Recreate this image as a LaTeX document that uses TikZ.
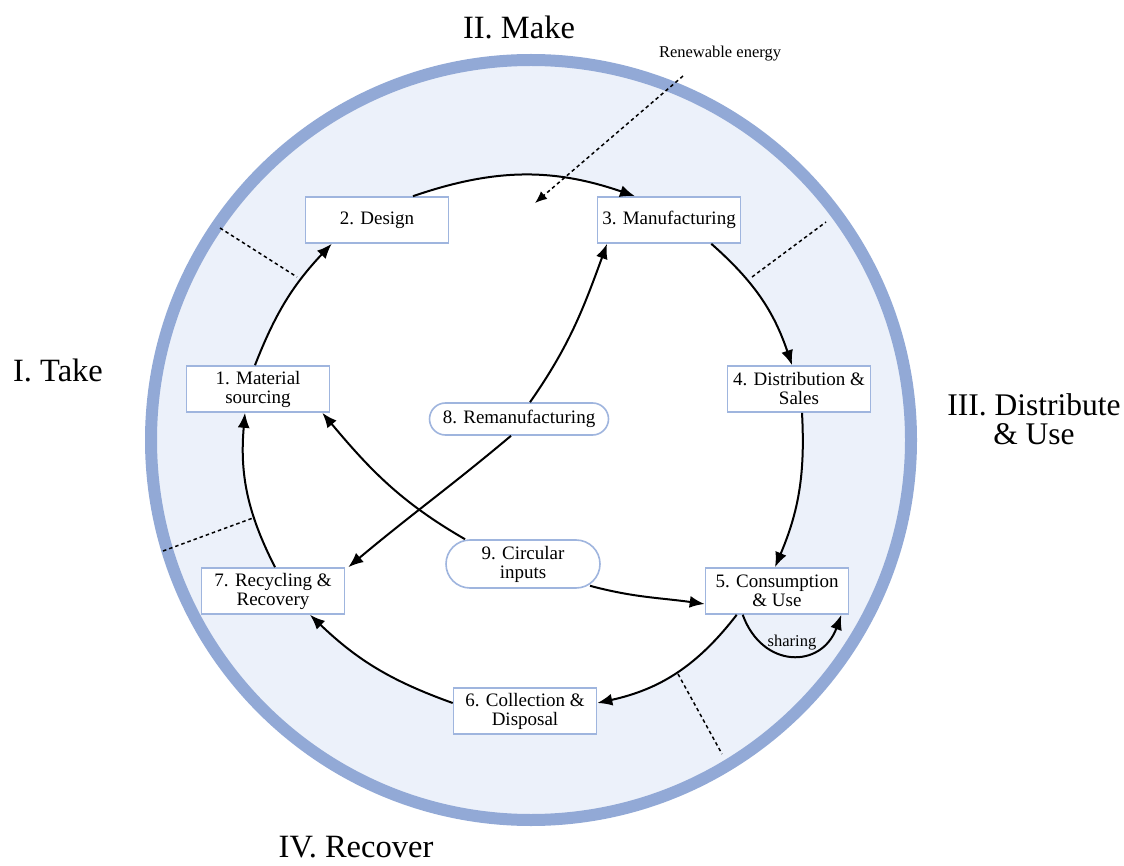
\documentclass[tikz,border=0pt]{standalone}
\usepackage{fontspec}
\setmainfont{Liberation Serif}
\usetikzlibrary{arrows.meta,calc}
\definecolor{ringc}{HTML}{92A9D6}
\definecolor{fillc}{HTML}{ECF1FA}
\definecolor{boxc}{HTML}{9FB5DE}
\pgfdeclarelayer{background}
\pgfsetlayers{background,main}
\begin{document}
\begin{tikzpicture}[x=1pt,y=1pt,
  stepbox/.style={draw=boxc,line width=1.6pt,fill=white,minimum width=143pt,minimum height=46pt,inner sep=0pt,align=center,font=\fontsize{19}{19}\selectfont},
  pillbox/.style={draw=boxc,line width=1.6pt,fill=white,inner sep=0pt,align=center,font=\fontsize{19}{19}\selectfont},
  flow/.style={line width=2pt,-{Latex[length=15pt,width=12pt]}},
  sep/.style={line width=1.5pt,dash pattern=on 3.5pt off 3pt},
  biglabel/.style={align=center,font=\fontsize{32.5}{29}\selectfont},
  smalllabel/.style={font=\fontsize{16.5}{17}\selectfont}]
\useasboundingbox (0,0) rectangle (1124,-866);
% nodes
\node[stepbox] (n1) at (258,-389) {1. Material\\sourcing};
\node[stepbox] (n2) at (377,-220) {2. Design};
\node[stepbox] (n3) at (669,-220) {3. Manufacturing};
\node[stepbox] (n4) at (799,-389) {4. Distribution \&\\Sales};
\node[stepbox] (n5) at (777,-591) {5. Consumption\\\& Use};
\node[stepbox] (n6) at (525,-711) {6. Collection \&\\Disposal};
\node[stepbox] (n7) at (273,-591) {7. Recycling \&\\Recovery};
\node[pillbox,minimum width=179pt,minimum height=32pt,rounded corners=16pt] (n8) at (519,-419) {8. Remanufacturing};
\node[pillbox,minimum width=154pt,minimum height=48pt,rounded corners=24pt] (n9) at (523,-564) {9. Circular\\inputs};
% background: ring, light fill, white inner region bounded by the cycle arcs
\begin{pgfonlayer}{background}
\fill[fillc] (531,-440) circle (380);
\fill[white] ([xshift=-3pt]n1.north) to[bend left=11] ([xshift=27pt]n2.south west)
  -- ([xshift=36pt]n2.north) to[bend left=19] ([xshift=-34pt]n3.north)
  -- ([xshift=-30pt]n3.south east) to[bend left=15] ([xshift=-7pt]n4.north)
  -- ([xshift=3pt]n4.south) to[bend left=13] ([xshift=-2pt]n5.north)
  -- ([xshift=32pt]n5.south west) to[bend left=20] ([yshift=8pt]n6.east)
  -- ([yshift=8pt]n6.west) to[bend left=12] ([xshift=37pt]n7.south)
  -- ([xshift=2pt]n7.north) to[bend left=16] ([xshift=-13pt]n1.south) -- cycle;
\draw[ringc,line width=12pt] (531,-440) circle (380);
% separators
\draw[sep] (220,-228) -- (297,-277);
\draw[sep] (752,-277) -- (826,-222);
\draw[sep] (163,-551) -- (253,-518);
\draw[sep] (678,-674) -- (722,-754);
\end{pgfonlayer}
% main cycle
\draw[flow] ([xshift=-3pt]n1.north) to[bend left=11] ([xshift=27pt]n2.south west);
\draw[flow] ([xshift=36pt]n2.north) to[bend left=19] ([xshift=-34pt]n3.north);
\draw[flow] ([xshift=-30pt]n3.south east) to[bend left=15] ([xshift=-7pt]n4.north);
\draw[flow] ([xshift=3pt]n4.south) to[bend left=13] ([xshift=-2pt]n5.north);
\draw[flow] ([xshift=32pt]n5.south west) to[bend left=20] ([yshift=8pt]n6.east);
\draw[flow] ([yshift=8pt]n6.west) to[bend left=12] ([xshift=37pt]n7.south);
\draw[flow] ([xshift=2pt]n7.north) to[bend left=16] ([xshift=-13pt]n1.south);
% inner flows
\draw[flow] ([xshift=-58pt]n9.north) to[out=150,in=-50] ([xshift=-8pt]n1.south east);
\draw[flow] ([xshift=11pt]n8.north) to[out=55,in=-110] ([xshift=-62pt]n3.south);
\draw[flow] ([xshift=-8pt]n8.south) to[out=-140,in=40] ([xshift=3pt]n7.north east);
\draw[flow] ([xshift=67pt,yshift=3pt]n9.south) to[out=-15,in=172] ([yshift=-13pt]n5.west);
\draw[flow] ([xshift=38pt]n5.south west) to[out=-70,in=-110,looseness=1.5] node[pos=0.5,above=1pt,smalllabel] {sharing} ([xshift=-8pt]n5.south east);
% renewable energy
\node[smalllabel] (re) at (720,-54) {Renewable energy};
\coordinate (reend) at (535,-203);
\draw[sep,-{Latex[length=12pt,width=10pt]}] ([xshift=-37pt,yshift=-11pt]re.south) -- (reend);
% phase labels
\node[biglabel] (lmake) at (519,-27) {II. Make};
\node[biglabel] (ltake) at (58,-370) {I. Take};
\node[biglabel,font=\fontsize{31.5}{29}\selectfont] (luse) at (1034,-419) {III. Distribute\\\& Use};
\node[biglabel] (lrec) at (356,-847) {IV. Recover};
\end{tikzpicture}
\end{document}
